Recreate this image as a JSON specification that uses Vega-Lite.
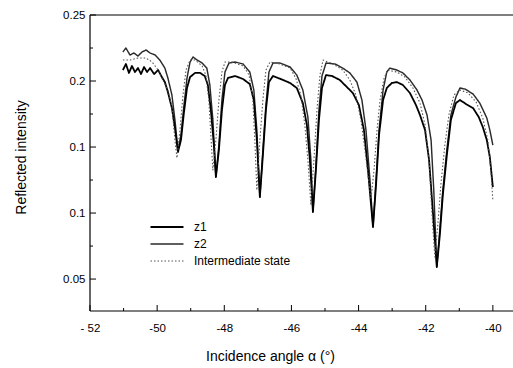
{
"$schema": "https://vega.github.io/schema/vega-lite/v6.json",
"width": 423, "height": 296,
"autosize": {"type": "none"},
"padding": {"left": 90, "top": 15, "right": 0, "bottom": 57},
"background": "white",
"config": {"font": "Liberation Sans", "view": {"stroke": null},
  "axis": {"domain": false, "tickSize": 0, "labelColor": "#000", "labelFont": "Liberation Sans", "titleFont": "Liberation Sans", "titleColor": "#000", "titleFontWeight": "normal", "grid": false, "labelFlush": false, "labelOverlap": false}},
"datasets": {"curves": [
{"series":"z2","angle":-51.02,"intensity":0.2220},{"series":"z2","angle":-50.93,"intensity":0.2250},{"series":"z2","angle":-50.81,"intensity":0.2197},{"series":"z2","angle":-50.69,"intensity":0.2212},{"series":"z2","angle":-50.57,"intensity":0.2189},{"series":"z2","angle":-50.45,"intensity":0.2220},{"series":"z2","angle":-50.33,"intensity":0.2235},{"series":"z2","angle":-50.21,"intensity":0.2212},{"series":"z2","angle":-50.06,"intensity":0.2197},{"series":"z2","angle":-49.92,"intensity":0.2159},{"series":"z2","angle":-49.77,"intensity":0.2098},{"series":"z2","angle":-49.68,"intensity":0.2023},{"series":"z2","angle":-49.56,"intensity":0.1894},{"series":"z2","angle":-49.47,"intensity":0.1705},{"series":"z2","angle":-49.38,"intensity":0.1477},{"series":"z2","angle":-49.29,"intensity":0.1591},{"series":"z2","angle":-49.20,"intensity":0.1818},{"series":"z2","angle":-49.11,"intensity":0.2023},{"series":"z2","angle":-49.02,"intensity":0.2144},{"series":"z2","angle":-48.93,"intensity":0.2182},{"series":"z2","angle":-48.81,"intensity":0.2159},{"series":"z2","angle":-48.66,"intensity":0.2136},{"series":"z2","angle":-48.52,"intensity":0.2098},{"series":"z2","angle":-48.43,"intensity":0.1970},{"series":"z2","angle":-48.34,"intensity":0.1705},{"series":"z2","angle":-48.25,"intensity":0.1273},{"series":"z2","angle":-48.16,"intensity":0.1515},{"series":"z2","angle":-48.07,"intensity":0.1856},{"series":"z2","angle":-47.98,"intensity":0.2068},{"series":"z2","angle":-47.86,"intensity":0.2136},{"series":"z2","angle":-47.68,"intensity":0.2144},{"series":"z2","angle":-47.44,"intensity":0.2129},{"series":"z2","angle":-47.24,"intensity":0.2068},{"series":"z2","angle":-47.12,"intensity":0.1932},{"series":"z2","angle":-47.03,"intensity":0.1629},{"series":"z2","angle":-46.94,"intensity":0.1121},{"series":"z2","angle":-46.85,"intensity":0.1477},{"series":"z2","angle":-46.76,"intensity":0.1818},{"series":"z2","angle":-46.67,"intensity":0.2068},{"series":"z2","angle":-46.55,"intensity":0.2136},{"series":"z2","angle":-46.34,"intensity":0.2136},{"series":"z2","angle":-46.04,"intensity":0.2106},{"series":"z2","angle":-45.84,"intensity":0.2045},{"series":"z2","angle":-45.66,"intensity":0.1932},{"series":"z2","angle":-45.51,"intensity":0.1727},{"series":"z2","angle":-45.42,"intensity":0.1402},{"series":"z2","angle":-45.36,"intensity":0.1008},{"series":"z2","angle":-45.27,"intensity":0.1364},{"series":"z2","angle":-45.18,"intensity":0.1780},{"series":"z2","angle":-45.09,"intensity":0.2038},{"series":"z2","angle":-44.97,"intensity":0.2136},{"series":"z2","angle":-44.70,"intensity":0.2129},{"series":"z2","angle":-44.47,"intensity":0.2098},{"series":"z2","angle":-44.26,"intensity":0.2061},{"series":"z2","angle":-44.05,"intensity":0.1992},{"series":"z2","angle":-43.90,"intensity":0.1856},{"series":"z2","angle":-43.78,"intensity":0.1629},{"series":"z2","angle":-43.66,"intensity":0.1250},{"series":"z2","angle":-43.57,"intensity":0.0894},{"series":"z2","angle":-43.48,"intensity":0.1250},{"series":"z2","angle":-43.39,"intensity":0.1629},{"series":"z2","angle":-43.27,"intensity":0.1932},{"series":"z2","angle":-43.16,"intensity":0.2068},{"series":"z2","angle":-43.07,"intensity":0.2098},{"series":"z2","angle":-42.86,"intensity":0.2083},{"series":"z2","angle":-42.68,"intensity":0.2061},{"series":"z2","angle":-42.47,"intensity":0.2008},{"series":"z2","angle":-42.26,"intensity":0.1932},{"series":"z2","angle":-42.11,"intensity":0.1856},{"series":"z2","angle":-41.96,"intensity":0.1742},{"series":"z2","angle":-41.84,"intensity":0.1553},{"series":"z2","angle":-41.76,"intensity":0.1174},{"series":"z2","angle":-41.67,"intensity":0.0591},{"series":"z2","angle":-41.58,"intensity":0.0871},{"series":"z2","angle":-41.49,"intensity":0.1174},{"series":"z2","angle":-41.37,"intensity":0.1477},{"series":"z2","angle":-41.25,"intensity":0.1742},{"series":"z2","angle":-41.10,"intensity":0.1879},{"series":"z2","angle":-40.98,"intensity":0.1947},{"series":"z2","angle":-40.83,"intensity":0.1939},{"series":"z2","angle":-40.59,"intensity":0.1902},{"series":"z2","angle":-40.39,"intensity":0.1833},{"series":"z2","angle":-40.18,"intensity":0.1720},{"series":"z2","angle":-40.09,"intensity":0.1629},{"series":"z2","angle":-40.00,"intensity":0.1515},
{"series":"z1","angle":-51.02,"intensity":0.2083},{"series":"z1","angle":-50.93,"intensity":0.2129},{"series":"z1","angle":-50.84,"intensity":0.2061},{"series":"z1","angle":-50.75,"intensity":0.2114},{"series":"z1","angle":-50.66,"intensity":0.2068},{"series":"z1","angle":-50.57,"intensity":0.2098},{"series":"z1","angle":-50.48,"intensity":0.2053},{"series":"z1","angle":-50.39,"intensity":0.2106},{"series":"z1","angle":-50.30,"intensity":0.2068},{"series":"z1","angle":-50.21,"intensity":0.2098},{"series":"z1","angle":-50.09,"intensity":0.2053},{"series":"z1","angle":-49.97,"intensity":0.2083},{"series":"z1","angle":-49.86,"intensity":0.2030},{"series":"z1","angle":-49.77,"intensity":0.1992},{"series":"z1","angle":-49.68,"intensity":0.1917},{"series":"z1","angle":-49.56,"intensity":0.1795},{"series":"z1","angle":-49.47,"intensity":0.1644},{"series":"z1","angle":-49.38,"intensity":0.1462},{"series":"z1","angle":-49.29,"intensity":0.1553},{"series":"z1","angle":-49.20,"intensity":0.1765},{"series":"z1","angle":-49.11,"intensity":0.1947},{"series":"z1","angle":-49.02,"intensity":0.2030},{"series":"z1","angle":-48.87,"intensity":0.2061},{"series":"z1","angle":-48.72,"intensity":0.2061},{"series":"z1","angle":-48.58,"intensity":0.2038},{"series":"z1","angle":-48.49,"intensity":0.1970},{"series":"z1","angle":-48.40,"intensity":0.1780},{"series":"z1","angle":-48.31,"intensity":0.1515},{"series":"z1","angle":-48.25,"intensity":0.1273},{"series":"z1","angle":-48.16,"intensity":0.1477},{"series":"z1","angle":-48.07,"intensity":0.1780},{"series":"z1","angle":-47.98,"intensity":0.1970},{"series":"z1","angle":-47.89,"intensity":0.2023},{"series":"z1","angle":-47.68,"intensity":0.2038},{"series":"z1","angle":-47.44,"intensity":0.2015},{"series":"z1","angle":-47.24,"intensity":0.1977},{"series":"z1","angle":-47.12,"intensity":0.1856},{"series":"z1","angle":-47.03,"intensity":0.1553},{"series":"z1","angle":-46.94,"intensity":0.1121},{"series":"z1","angle":-46.85,"intensity":0.1439},{"series":"z1","angle":-46.76,"intensity":0.1780},{"series":"z1","angle":-46.67,"intensity":0.1992},{"series":"z1","angle":-46.55,"intensity":0.2038},{"series":"z1","angle":-46.25,"intensity":0.2008},{"series":"z1","angle":-46.04,"intensity":0.1985},{"series":"z1","angle":-45.84,"intensity":0.1947},{"series":"z1","angle":-45.66,"intensity":0.1833},{"series":"z1","angle":-45.54,"intensity":0.1667},{"series":"z1","angle":-45.45,"intensity":0.1402},{"series":"z1","angle":-45.36,"intensity":0.1008},{"series":"z1","angle":-45.27,"intensity":0.1326},{"series":"z1","angle":-45.18,"intensity":0.1705},{"series":"z1","angle":-45.09,"intensity":0.1947},{"series":"z1","angle":-44.97,"intensity":0.2045},{"series":"z1","angle":-44.79,"intensity":0.2038},{"series":"z1","angle":-44.56,"intensity":0.2008},{"series":"z1","angle":-44.35,"intensity":0.1955},{"series":"z1","angle":-44.17,"intensity":0.1909},{"series":"z1","angle":-43.99,"intensity":0.1818},{"series":"z1","angle":-43.84,"intensity":0.1629},{"series":"z1","angle":-43.72,"intensity":0.1326},{"series":"z1","angle":-43.57,"intensity":0.0894},{"series":"z1","angle":-43.48,"intensity":0.1212},{"series":"z1","angle":-43.39,"intensity":0.1591},{"series":"z1","angle":-43.27,"intensity":0.1856},{"series":"z1","angle":-43.16,"intensity":0.1947},{"series":"z1","angle":-43.01,"intensity":0.1985},{"series":"z1","angle":-42.86,"intensity":0.1992},{"series":"z1","angle":-42.68,"intensity":0.1970},{"series":"z1","angle":-42.47,"intensity":0.1909},{"series":"z1","angle":-42.29,"intensity":0.1818},{"series":"z1","angle":-42.17,"intensity":0.1742},{"series":"z1","angle":-42.02,"intensity":0.1629},{"series":"z1","angle":-41.90,"intensity":0.1402},{"series":"z1","angle":-41.79,"intensity":0.1023},{"series":"z1","angle":-41.67,"intensity":0.0591},{"series":"z1","angle":-41.58,"intensity":0.0833},{"series":"z1","angle":-41.49,"intensity":0.1136},{"series":"z1","angle":-41.37,"intensity":0.1439},{"series":"z1","angle":-41.25,"intensity":0.1705},{"series":"z1","angle":-41.10,"intensity":0.1833},{"series":"z1","angle":-40.98,"intensity":0.1856},{"series":"z1","angle":-40.80,"intensity":0.1826},{"series":"z1","angle":-40.59,"intensity":0.1795},{"series":"z1","angle":-40.42,"intensity":0.1727},{"series":"z1","angle":-40.30,"intensity":0.1652},{"series":"z1","angle":-40.18,"intensity":0.1553},{"series":"z1","angle":-40.09,"intensity":0.1424},{"series":"z1","angle":-40.00,"intensity":0.1197},
{"series":"Intermediate state","angle":-51.02,"intensity":0.2159},{"series":"Intermediate state","angle":-50.81,"intensity":0.2159},{"series":"Intermediate state","angle":-50.57,"intensity":0.2174},{"series":"Intermediate state","angle":-50.33,"intensity":0.2174},{"series":"Intermediate state","angle":-50.15,"intensity":0.2144},{"series":"Intermediate state","angle":-49.97,"intensity":0.2083},{"series":"Intermediate state","angle":-49.83,"intensity":0.2008},{"series":"Intermediate state","angle":-49.68,"intensity":0.1932},{"series":"Intermediate state","angle":-49.56,"intensity":0.1803},{"series":"Intermediate state","angle":-49.47,"intensity":0.1553},{"series":"Intermediate state","angle":-49.41,"intensity":0.1417},{"series":"Intermediate state","angle":-49.32,"intensity":0.1629},{"series":"Intermediate state","angle":-49.23,"intensity":0.1894},{"series":"Intermediate state","angle":-49.14,"intensity":0.2083},{"series":"Intermediate state","angle":-49.02,"intensity":0.2159},{"series":"Intermediate state","angle":-48.87,"intensity":0.2159},{"series":"Intermediate state","angle":-48.66,"intensity":0.2114},{"series":"Intermediate state","angle":-48.55,"intensity":0.2045},{"series":"Intermediate state","angle":-48.46,"intensity":0.1856},{"series":"Intermediate state","angle":-48.40,"intensity":0.1591},{"series":"Intermediate state","angle":-48.34,"intensity":0.1326},{"series":"Intermediate state","angle":-48.25,"intensity":0.1553},{"series":"Intermediate state","angle":-48.16,"intensity":0.1856},{"series":"Intermediate state","angle":-48.07,"intensity":0.2068},{"series":"Intermediate state","angle":-47.98,"intensity":0.2144},{"series":"Intermediate state","angle":-47.77,"intensity":0.2144},{"series":"Intermediate state","angle":-47.44,"intensity":0.2114},{"series":"Intermediate state","angle":-47.26,"intensity":0.2045},{"series":"Intermediate state","angle":-47.15,"intensity":0.1856},{"series":"Intermediate state","angle":-47.09,"intensity":0.1553},{"series":"Intermediate state","angle":-47.03,"intensity":0.1174},{"series":"Intermediate state","angle":-46.94,"intensity":0.1553},{"series":"Intermediate state","angle":-46.85,"intensity":0.1856},{"series":"Intermediate state","angle":-46.76,"intensity":0.2083},{"series":"Intermediate state","angle":-46.64,"intensity":0.2144},{"series":"Intermediate state","angle":-46.34,"intensity":0.2129},{"series":"Intermediate state","angle":-46.04,"intensity":0.2098},{"series":"Intermediate state","angle":-45.87,"intensity":0.2023},{"series":"Intermediate state","angle":-45.72,"intensity":0.1894},{"series":"Intermediate state","angle":-45.60,"intensity":0.1667},{"series":"Intermediate state","angle":-45.51,"intensity":0.1402},{"series":"Intermediate state","angle":-45.42,"intensity":0.1061},{"series":"Intermediate state","angle":-45.33,"intensity":0.1402},{"series":"Intermediate state","angle":-45.24,"intensity":0.1780},{"series":"Intermediate state","angle":-45.15,"intensity":0.2045},{"series":"Intermediate state","angle":-45.06,"intensity":0.2159},{"series":"Intermediate state","angle":-44.76,"intensity":0.2129},{"series":"Intermediate state","angle":-44.47,"intensity":0.2083},{"series":"Intermediate state","angle":-44.26,"intensity":0.2008},{"series":"Intermediate state","angle":-44.08,"intensity":0.1894},{"series":"Intermediate state","angle":-43.93,"intensity":0.1705},{"series":"Intermediate state","angle":-43.81,"intensity":0.1477},{"series":"Intermediate state","angle":-43.72,"intensity":0.1288},{"series":"Intermediate state","angle":-43.63,"intensity":0.1106},{"series":"Intermediate state","angle":-43.54,"intensity":0.1326},{"series":"Intermediate state","angle":-43.45,"intensity":0.1629},{"series":"Intermediate state","angle":-43.36,"intensity":0.1856},{"series":"Intermediate state","angle":-43.24,"intensity":0.2023},{"series":"Intermediate state","angle":-43.13,"intensity":0.2083},{"series":"Intermediate state","angle":-42.86,"intensity":0.2068},{"series":"Intermediate state","angle":-42.62,"intensity":0.2030},{"series":"Intermediate state","angle":-42.38,"intensity":0.1947},{"series":"Intermediate state","angle":-42.17,"intensity":0.1833},{"series":"Intermediate state","angle":-42.02,"intensity":0.1667},{"series":"Intermediate state","angle":-41.90,"intensity":0.1402},{"series":"Intermediate state","angle":-41.82,"intensity":0.1023},{"series":"Intermediate state","angle":-41.73,"intensity":0.0667},{"series":"Intermediate state","angle":-41.64,"intensity":0.0909},{"series":"Intermediate state","angle":-41.55,"intensity":0.1212},{"series":"Intermediate state","angle":-41.43,"intensity":0.1515},{"series":"Intermediate state","angle":-41.31,"intensity":0.1742},{"series":"Intermediate state","angle":-41.16,"intensity":0.1894},{"series":"Intermediate state","angle":-40.98,"intensity":0.1932},{"series":"Intermediate state","angle":-40.74,"intensity":0.1909},{"series":"Intermediate state","angle":-40.50,"intensity":0.1841},{"series":"Intermediate state","angle":-40.30,"intensity":0.1720},{"series":"Intermediate state","angle":-40.15,"intensity":0.1553},{"series":"Intermediate state","angle":-40.06,"intensity":0.1326},{"series":"Intermediate state","angle":-40.00,"intensity":0.1098}
]},
"layer": [
 {"data": {"name": "curves"},
  "mark": {"type": "line", "strokeJoin": "round"},
  "encoding": {
   "x": {"field": "angle", "type": "quantitative", "scale": {"domain": [-52, -39.4], "nice": false, "zero": false},
     "axis": {"orient": "bottom", "values": [-52,-50,-48,-46,-44,-42,-40], "labelExpr": "datum.value == -52 ? '- 52' : '-' + format(abs(datum.value), 'd')", "labelPadding": 11, "labelFontSize": 11.5, "title": "Incidence angle α (°)", "titleFontSize": 14, "titleX": 180, "titleY": 49, "titleAlign": "center", "titleBaseline": "alphabetic"}},
   "y": {"field": "intensity", "type": "quantitative", "scale": {"domain": [0.0258, 0.25], "nice": false, "zero": false},
     "axis": {"orient": "left", "values": [0.05,0.1,0.15,0.2,0.25], "labelExpr": "datum.value > 0.24 ? '0.25' : datum.value > 0.19 ? '0.2' : datum.value > 0.09 ? '0.1' : '0.05'", "labelPadding": 5, "labelFontSize": 11.5, "title": "Reflected intensity", "titleFontSize": 14, "titleAngle": -90, "titleX": -65, "titleY": 142, "titleAlign": "center", "titleBaseline": "alphabetic"}},
   "color": {"field": "series", "type": "nominal", "scale": {"domain": ["z1","z2","Intermediate state"], "range": ["#000000","#2a2a2a","#555555"]},
     "legend": {"title": null, "orient": "none", "legendX": 71, "legendY": 206, "symbolType": "M-3.3,0H3.3", "symbolSize": 100, "labelFontSize": 12, "labelOffset": 21, "rowPadding": 5, "labelColor": "#000", "labelFont": "Liberation Sans"}},
   "strokeDash": {"field": "series", "type": "nominal", "scale": {"domain": ["z1","z2","Intermediate state"], "range": [[1,0],[1,0],[1.5,2]]},
     "legend": {"title": null, "orient": "none", "legendX": 71, "legendY": 206, "symbolType": "M-3.3,0H3.3", "symbolSize": 100, "labelFontSize": 12, "labelOffset": 21, "rowPadding": 5, "labelColor": "#000", "labelFont": "Liberation Sans"}},
   "strokeWidth": {"field": "series", "type": "nominal", "scale": {"domain": ["z1","z2","Intermediate state"], "range": [1.8, 1.1, 1]},
     "legend": {"title": null, "orient": "none", "legendX": 71, "legendY": 206, "symbolType": "M-3.3,0H3.3", "symbolSize": 100, "labelFontSize": 12, "labelOffset": 21, "rowPadding": 5, "labelColor": "#000", "labelFont": "Liberation Sans"}}
  }},
 {"data": {"values": [{}]},
  "mark": {"type": "rule", "color": "#000", "strokeWidth": 1.2},
  "encoding": {"y": {"datum": 0.25, "type": "quantitative"}}},
 {"data": {"values": [{}]},
  "mark": {"type": "rule", "color": "#000", "strokeWidth": 1.2},
  "encoding": {"y": {"datum": 0.0258, "type": "quantitative"}}},
 {"data": {"values": [{}]},
  "mark": {"type": "rule", "color": "#000", "strokeWidth": 1.2},
  "encoding": {"x": {"datum": -52, "type": "quantitative"}}},
 {"data": {"values": [{"tick": -52}, {"tick": -50}, {"tick": -48}, {"tick": -46}, {"tick": -44}, {"tick": -42}, {"tick": -40}]},
  "mark": {"type": "tick", "color": "#000", "orient": "vertical", "size": 6, "thickness": 1, "yOffset": -3, "opacity": 1},
  "encoding": {"x": {"field": "tick", "type": "quantitative"}, "y": {"datum": 0.0258, "type": "quantitative"}}},
 {"data": {"values": [{"tick": -51}, {"tick": -49}, {"tick": -47}, {"tick": -45}, {"tick": -43}, {"tick": -41}]},
  "mark": {"type": "tick", "color": "#000", "orient": "vertical", "size": 3, "thickness": 1, "yOffset": -1.5, "opacity": 1},
  "encoding": {"x": {"field": "tick", "type": "quantitative"}, "y": {"datum": 0.0258, "type": "quantitative"}}},
 {"data": {"values": [{"tick": 0.05}, {"tick": 0.1}, {"tick": 0.15}, {"tick": 0.2}, {"tick": 0.25}]},
  "mark": {"type": "tick", "color": "#000", "orient": "horizontal", "size": 6, "thickness": 1, "xOffset": 3, "opacity": 1},
  "encoding": {"y": {"field": "tick", "type": "quantitative"}, "x": {"datum": -52, "type": "quantitative"}}},
 {"data": {"values": [{"tick": 0.075}, {"tick": 0.125}, {"tick": 0.175}, {"tick": 0.225}]},
  "mark": {"type": "tick", "color": "#000", "orient": "horizontal", "size": 3, "thickness": 1, "xOffset": 1.5, "opacity": 1},
  "encoding": {"y": {"field": "tick", "type": "quantitative"}, "x": {"datum": -52, "type": "quantitative"}}}
]
}
